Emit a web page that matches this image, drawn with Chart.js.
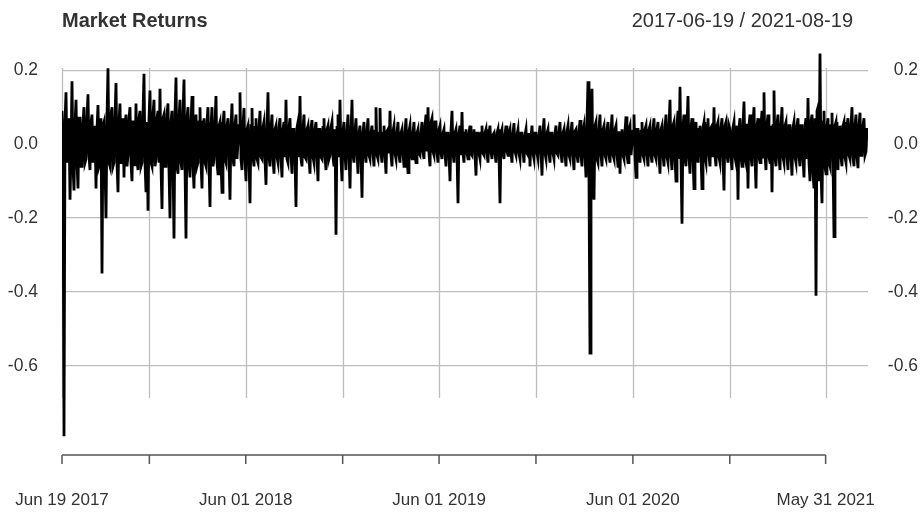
<!DOCTYPE html>
<html>
<head>
<meta charset="utf-8">
<title>Market Returns</title>
<script src="https://cdn.jsdelivr.net/npm/chart.js@4.4.1/dist/chart.umd.min.js"></script>
<style>
  body { margin: 0; background: #fff; }
  canvas { display: block; }
</style>
</head>
<body>
<canvas id="chart" width="922" height="512"></canvas>
<script>
// period shown
const startDate = '2017-06-19';
const endDate = '2021-08-19';

// x axis ticks (dates) and which of them get a label
const tickDates = ['2017-06-19', '2017-12-01', '2018-06-01', '2018-12-01', '2019-06-01',
                   '2019-12-01', '2020-06-01', '2020-12-01', '2021-05-31'];
const tickLabels = ['Jun 19 2017', '', 'Jun 01 2018', '', 'Jun 01 2019',
                    '', 'Jun 01 2020', '', 'May 31 2021'];

// y axis ticks
const yTicks = [0.2, 0.0, -0.2, -0.4, -0.6];

// returns, evenly spaced from startDate to endDate
const returns = [
  0.09, -0.04, -0.79, 0.06, 0.14, -0.05, 0.03, 0.07, -0.15, -0.02, 0.17, -0.06, -0.125, 0.05, 0.12, -0.05, -0.12, 0.07, 0.07, -0.06,
  -0.06, 0.06, 0.10, -0.05, -0.04, 0.07, 0.135, -0.03, -0.07, 0.06, 0.08, -0.05, -0.02, 0.05, -0.12, 0.04, 0.106, -0.06, -0.05, 0.07,
  -0.35, 0.05, 0.06, -0.06, -0.2, 0.07, 0.205, -0.05, -0.06, 0.08, 0.1, -0.06, -0.05, 0.07, 0.165, -0.05, -0.13, 0.06, 0.11, -0.05,
  -0.05, 0.07, -0.09, 0.05, 0.08, -0.06, -0.03, 0.07, 0.1, -0.05, -0.1, 0.06, 0.06, -0.06, 0.11, -0.04, -0.07, 0.07, 0.09, -0.06,
  -0.05, 0.08, 0.19, -0.05, -0.13, 0.06, -0.18, 0.07, 0.145, -0.05, -0.06, 0.08, 0.12, -0.06, -0.04, 0.07, 0.09, -0.05, 0.15, -0.06,
  -0.175, 0.07, 0.08, -0.06, -0.06, 0.08, 0.11, -0.07, -0.2, 0.06, 0.09, -0.05, -0.255, 0.08, 0.18, -0.06, -0.08, 0.07, 0.12, -0.05,
  -0.07, 0.08, 0.175, -0.06, -0.255, 0.07, 0.1, -0.05, -0.09, 0.06, 0.13, -0.06, -0.12, 0.05, 0.08, -0.06, -0.05, 0.06, 0.1, -0.05,
  -0.12, 0.06, 0.07, -0.05, -0.06, 0.06, 0.1, -0.05, -0.17, 0.05, 0.1, -0.06, -0.04, 0.06, 0.13, -0.05, -0.08, 0.05, 0.06, -0.05,
  -0.13, 0.05, 0.09, -0.04, -0.05, 0.05, 0.07, -0.04, -0.15, 0.05, 0.11, -0.04, -0.06, 0.05, 0.08, -0.04, -0.04, 0.05, 0.14, -0.04,
  -0.07, 0.05, 0.098, -0.04, -0.1, 0.04, 0.05, -0.04, -0.16, 0.05, 0.098, -0.035, -0.06, 0.045, 0.07, -0.04, -0.05, 0.045, 0.09, -0.035,
  -0.04, 0.045, 0.06, -0.04, -0.11, 0.04, 0.14, -0.035, -0.06, 0.045, 0.08, -0.04, -0.08, 0.04, 0.05, -0.035, -0.05, 0.045, 0.07, -0.04,
  -0.09, 0.04, 0.06, -0.035, 0.12, -0.04, -0.05, 0.045, 0.07, -0.03, -0.08, 0.04, 0.04, -0.04, -0.17, 0.045, 0.06, -0.035, 0.13, -0.04,
  -0.06, 0.045, 0.08, -0.035, -0.04, 0.04, 0.05, -0.04, -0.08, 0.045, 0.065, -0.035, -0.05, 0.04, 0.06, -0.035, -0.1, 0.04, 0.04, -0.035,
  -0.04, 0.045, 0.07, -0.035, -0.07, 0.04, 0.05, -0.04, -0.03, 0.045, 0.06, -0.035, -0.06, 0.04, -0.245, 0.045, 0.08, -0.035, 0.12, -0.04,
  -0.1, 0.035, 0.06, -0.03, -0.07, 0.035, 0.08, -0.025, -0.12, 0.03, 0.12, -0.03, -0.05, 0.035, 0.07, -0.025, -0.08, 0.03, 0.05, -0.03,
  -0.145, 0.03, 0.06, -0.025, -0.05, 0.035, 0.07, -0.03, -0.04, 0.03, 0.05, -0.025, -0.06, 0.035, 0.1, -0.03, -0.04, 0.03, 0.098, -0.025,
  -0.05, 0.03, 0.05, -0.03, -0.08, 0.035, 0.04, -0.025, 0.09, -0.03, -0.06, 0.035, 0.05, -0.025, -0.04, 0.03, 0.06, -0.03, -0.05, 0.03,
  0.04, -0.025, -0.06, 0.03, 0.07, -0.03, -0.077, 0.035, 0.05, -0.025, -0.04, 0.03, 0.06, -0.025, -0.05, 0.03, 0.04, -0.025, -0.03, 0.03,
  0.06, -0.02, -0.04, 0.05, 0.08, -0.02, 0.1, -0.025, -0.06, 0.06, 0.07, -0.02, -0.03, 0.06, 0.06, -0.025, -0.05, 0.04, 0.05, -0.025,
  -0.04, 0.03, 0.04, -0.025, -0.06, 0.03, 0.03, -0.03, -0.1, 0.035, 0.09, -0.025, -0.05, 0.03, 0.04, -0.025, -0.16, 0.03, 0.05, -0.03,
  0.087, -0.025, -0.05, 0.03, 0.04, -0.025, -0.04, 0.03, 0.05, -0.025, -0.03, 0.03, 0.04, -0.025, -0.085, 0.03, 0.03, -0.025, -0.04, 0.03,
  0.05, -0.025, -0.03, 0.03, 0.04, -0.025, -0.05, 0.03, 0.05, -0.02, -0.04, 0.025, 0.03, -0.025, -0.05, 0.03, 0.04, -0.025, -0.16, 0.03,
  0.04, -0.025, -0.04, 0.025, 0.05, -0.02, -0.03, 0.03, 0.04, -0.025, -0.05, 0.03, 0.057, -0.02, -0.03, 0.025, 0.04, -0.025, -0.04, 0.03,
  0.03, -0.02, -0.05, 0.025, 0.04, -0.025, -0.03, 0.03, -0.06, 0.02, 0.05, -0.025, -0.04, 0.03, 0.03, -0.025, -0.04, 0.025, 0.05, -0.02,
  -0.085, 0.03, 0.07, -0.025, -0.04, 0.03, 0.04, -0.025, -0.05, 0.03, 0.03, -0.025, -0.04, 0.03, 0.05, -0.025, -0.03, 0.03, 0.06, -0.025,
  -0.05, 0.03, 0.04, -0.03, -0.06, 0.035, 0.05, -0.03, -0.04, 0.035, 0.06, -0.03, -0.07, 0.035, 0.04, -0.03, -0.05, 0.035, 0.065, -0.03,
  -0.06, 0.035, 0.05, -0.03, -0.09, 0.06, 0.17, -0.1, -0.565, 0.08, 0.15, -0.12, -0.15, 0.05, 0.06, -0.04, -0.05, 0.04, 0.08, -0.03,
  -0.06, 0.04, 0.05, -0.03, -0.04, 0.04, 0.06, -0.03, -0.05, 0.035, 0.08, -0.03, -0.04, 0.04, 0.05, -0.03, -0.06, 0.035, -0.08, 0.03,
  0.04, -0.03, -0.04, 0.035, 0.075, -0.03, -0.05, 0.04, 0.05, -0.03, -0.03, 0.035, 0.08, -0.03, -0.09, 0.04, 0.04, -0.03, -0.05, 0.035,
  0.06, -0.03, -0.04, 0.04, 0.05, -0.03, -0.06, 0.04, 0.05, -0.03, -0.05, 0.04, 0.07, -0.03, -0.04, 0.04, 0.06, -0.03, -0.08, 0.04,
  0.05, -0.03, -0.06, 0.045, 0.08, -0.035, -0.05, 0.05, 0.12, -0.035, -0.07, 0.05, 0.06, -0.04, -0.1, 0.05, 0.09, -0.04, 0.155, -0.04,
  -0.215, 0.05, 0.08, -0.04, -0.06, 0.05, 0.13, -0.035, -0.08, 0.045, 0.07, -0.035, -0.12, 0.04, 0.06, -0.03, -0.05, 0.04, 0.05, -0.03,
  -0.12, 0.045, 0.06, -0.035, -0.05, 0.05, 0.07, -0.03, -0.06, 0.045, 0.05, -0.035, 0.1, -0.03, -0.06, 0.05, 0.06, -0.035, -0.05, 0.045,
  0.07, -0.035, -0.125, 0.05, 0.06, -0.03, -0.05, 0.05, 0.04, -0.035, -0.07, 0.045, 0.06, -0.035, -0.05, 0.05, -0.15, 0.045, 0.07, -0.035,
  -0.06, 0.05, 0.115, -0.035, -0.05, 0.055, -0.12, 0.05, 0.08, -0.035, -0.06, 0.055, 0.1, -0.035, -0.12, 0.05, 0.07, -0.035, -0.05, 0.05,
  0.09, -0.035, 0.14, -0.03, -0.07, 0.055, 0.08, -0.035, -0.05, 0.05, -0.13, 0.05, 0.145, -0.035, -0.06, 0.055, 0.08, -0.035, -0.07, 0.05,
  0.1, -0.035, -0.05, 0.05, 0.06, -0.035, -0.07, 0.05, 0.05, -0.035, -0.085, 0.045, 0.06, -0.035, -0.05, 0.05, 0.07, -0.035, -0.06, 0.05,
  0.05, -0.04, -0.09, 0.05, 0.07, -0.04, 0.125, -0.05, -0.1, 0.06, 0.08, -0.08, -0.12, 0.07, -0.41, 0.09, 0.1, -0.1, 0.245, -0.08,
  -0.16, 0.06, 0.09, -0.06, -0.08, 0.05, 0.07, -0.05, -0.06, 0.05, 0.085, -0.04, -0.25, 0.05, 0.06, -0.04, -0.07, 0.045, 0.05, -0.035,
  -0.06, 0.05, 0.06, -0.035, -0.05, 0.05, 0.07, -0.03, -0.04, 0.05, 0.1, -0.035, -0.06, 0.05, 0.08, -0.035, -0.065, 0.05, 0.085, -0.03,
  -0.03, 0.05, 0.07, -0.03, -0.02, 0.04, 0.04
];

const DAY = 86400000;
const dayOf = d => Math.round((Date.parse(d) - Date.parse(startDate)) / DAY);
const totalDays = dayOf(endDate);
const step = totalDays / (returns.length - 1);
const points = returns.map((v, i) => ({ x: i * step, y: v }));
const tickDays = tickDates.map(dayOf);

const FONT = '"Liberation Sans", Arial, sans-serif';
const TEXT = '#333333';

// vertical grid lines (short, like the xts plot) + x axis, titles
const xtsDecor = {
    id: 'xtsDecor',
    beforeDatasetsDraw(chart) {
        const ctx = chart.ctx;
        const xs = chart.scales.x;
        ctx.save();
        ctx.strokeStyle = '#bebebe';
        ctx.lineWidth = 1.3;
        tickDays.forEach(d => {
            const px = Math.round(xs.getPixelForValue(d)) + 0.5;
            ctx.beginPath();
            ctx.moveTo(px, 68);
            ctx.lineTo(px, 398);
            ctx.stroke();
        });
        ctx.restore();
    },
    afterDraw(chart) {
        const ctx = chart.ctx;
        const xs = chart.scales.x;
        const x0 = xs.getPixelForValue(tickDays[0]);
        const x1 = xs.getPixelForValue(tickDays[tickDays.length - 1]);
        ctx.save();
        // x axis line and ticks
        ctx.strokeStyle = '#555555';
        ctx.lineWidth = 1.5;
        ctx.beginPath();
        ctx.moveTo(x0, 455);
        ctx.lineTo(x1, 455);
        tickDays.forEach(d => {
            const px = xs.getPixelForValue(d);
            ctx.moveTo(px, 455);
            ctx.lineTo(px, 464);
        });
        ctx.stroke();
        // tick labels
        ctx.fillStyle = TEXT;
        ctx.font = '17px ' + FONT;
        ctx.textAlign = 'center';
        ctx.textBaseline = 'alphabetic';
        tickDays.forEach((d, i) => {
            if (tickLabels[i]) ctx.fillText(tickLabels[i], xs.getPixelForValue(d), 505);
        });
        // titles
        ctx.font = 'bold 20px ' + FONT;
        ctx.textAlign = 'left';
        ctx.fillText('Market Returns', 62, 27);
        ctx.font = '20px ' + FONT;
        ctx.textAlign = 'right';
        ctx.fillText(startDate + ' / ' + endDate, 853, 27);
        ctx.restore();
    }
};

const yTickOpts = {
    font: { family: FONT, size: 17.5 },
    color: TEXT,
    callback: v => v.toFixed(1)
};

new Chart(document.getElementById('chart'), {
    type: 'line',
    data: {
        datasets: [{
            data: points,
            borderColor: '#000000',
            borderWidth: 2.8,
            pointRadius: 0,
            tension: 0,
            fill: false
        }]
    },
    options: {
        responsive: false,
        animation: false,
        devicePixelRatio: 1,
        layout: { padding: { left: 0, right: 4, top: 48, bottom: 72 } },
        plugins: { legend: { display: false }, tooltip: { enabled: false } },
        scales: {
            x: { type: 'linear', display: false, min: 0, max: totalDays },
            y: {
                position: 'left',
                min: -0.8, max: 0.26,
                afterBuildTicks: s => { s.ticks = yTicks.map(v => ({ value: v })); },
                afterFit: s => { s.width = 62; },
                grid: { color: '#bebebe', lineWidth: 1.3, drawTicks: false },
                border: { display: false },
                ticks: Object.assign({ padding: 24 }, yTickOpts)
            },
            y2: {
                position: 'right',
                min: -0.8, max: 0.26,
                afterBuildTicks: s => { s.ticks = yTicks.map(v => ({ value: v })); },
                afterFit: s => { s.width = 50; },
                grid: { display: false, drawTicks: false },
                border: { display: false },
                ticks: Object.assign({ padding: 0, crossAlign: 'far' }, yTickOpts)
            }
        }
    },
    plugins: [xtsDecor]
});
</script>
</body>
</html>
